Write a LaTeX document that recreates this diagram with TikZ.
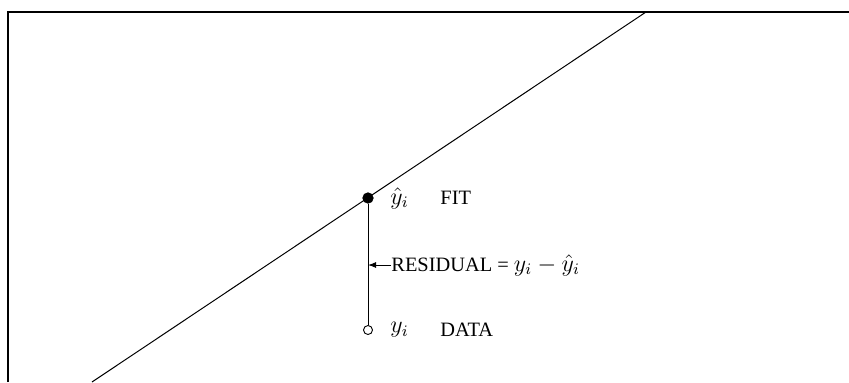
\documentclass[tikz,border=0pt]{standalone}
\usepackage{fontspec}
\setmainfont{Liberation Serif}
\usetikzlibrary{arrows.meta}
\newcommand{\mymath}[1]{{\fontsize{11.8}{13}\selectfont$#1$}}
\begin{document}
\begin{tikzpicture}[x=0.5pt,y=0.5pt,
  frame/.style={line width=0.6pt},
  fitline/.style={line width=0.5pt},
  lab/.style={font=\fontsize{10.2}{12}\selectfont, inner sep=0pt, anchor=west},
  fitdot/.style={circle, fill=black, draw=black, minimum size=5.2pt, inner sep=0pt},
  datadot/.style={circle, fill=white, draw=black, line width=0.45pt, minimum size=4.5pt, inner sep=0pt}]
\useasboundingbox (0,0) rectangle (849,382);
% frame (y up: y = 382 - image y)
\coordinate (fl) at (8,0);
\coordinate (fc) at (8,370);
\coordinate (fr) at (849,370);
\draw[frame] (fl) -- (fc) -- (fr);
% regression line
\coordinate (la) at (92,0);
\coordinate (lb) at (646,370);
\draw[fitline] (la) -- (lb);
% points
\node[fitdot] (fit) at (368,184) {};
\node[datadot] (data) at (368,52) {};
\draw[line width=0.5pt] (fit) -- (data);
% labels
\node[lab] (yhat) at (390,184) {\mymath{\hat{y}_i}};
\node[lab] (fitlab) at (440,184) {FIT};
\node[lab] (yi) at (390,52) {\mymath{y_i}};
\node[lab] (datalab) at (440,52) {DATA};
\node[lab] (res) at (391,117) {RESIDUAL = \mymath{y_i - \hat{y}_i}};
\coordinate (tip) at (368,117);
\draw[line width=0.5pt, -{Latex[length=4pt,width=3pt]}] (res.west) -- (tip);
\end{tikzpicture}
\end{document}
